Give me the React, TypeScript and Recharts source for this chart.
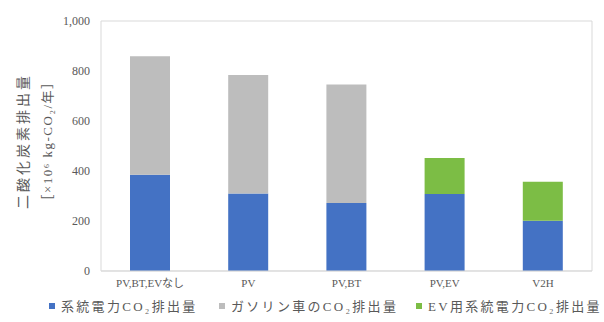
import React from "react";
import { BarChart, Bar, XAxis, YAxis, CartesianGrid, Legend } from "recharts";

const categories = ["PV,BT,EVなし", "PV", "PV,BT", "PV,EV", "V2H"];
const gridPower = [385, 310, 272, 308, 201];
const gasolineCar = [474, 474, 474, 0, 0];
const evGridPower = [0, 0, 0, 144, 156];
const yTicks = [0, 200, 400, 600, 800, 1000];

const seriesNames = ["系統電力CO₂排出量", "ガソリン車のCO₂排出量", "EV用系統電力CO₂排出量"];
const colors = ["#4472c4", "#bdbdbd", "#7cbd45"];

const data = categories.map((c, i) => ({
  name: c,
  a: gridPower[i],
  b: gasolineCar[i],
  c: evGridPower[i],
}));

const serif = "'Liberation Serif', 'DejaVu Serif', 'Noto Sans CJK JP', serif";
const textColor = "#595959";

const YLabel = (props: any) => {
  const vb = props.viewBox || {};
  const cy = vb.y + vb.height / 2 - 5;
  return (
    <g fill={textColor} fontFamily={serif}>
      <text x={23} y={cy} transform={`rotate(-90 23 ${cy})`} textAnchor="middle" dominantBaseline="central" fontSize={14} letterSpacing={3}>
        二酸化炭素排出量
      </text>
      <text x={47} y={cy} transform={`rotate(-90 47 ${cy})`} textAnchor="middle" dominantBaseline="central" fontSize={13} letterSpacing={1.5}>
        ［×10⁶ kg-CO₂/年］
      </text>
    </g>
  );
};

const renderLegend = () => (
  <div style={{ position: "relative", height: 20, fontFamily: serif, fontSize: 13, color: textColor }}>
    {seriesNames.map((n, i) => (
      <div
        key={n}
        style={{
          position: "absolute",
          left: [49, 219, 416][i],
          top: 0,
          display: "flex",
          alignItems: "center",
          whiteSpace: "nowrap",
          letterSpacing: 2.3,
        }}
      >
        <span style={{ display: "inline-block", width: 6, height: 6, background: colors[i], marginRight: 6 }} />
        {n}
      </div>
    ))}
  </div>
);

export default function App() {
  return (
    <div style={{ position: "absolute", left: 0, top: 0 }}>
      <BarChart
        width={604}
        height={322}
        data={data}
        margin={{ top: 21, right: 11, left: 0, bottom: 1 }}
        barSize={40}
      >
        <CartesianGrid vertical={false} stroke="#d9d9d9" />
        <XAxis
          dataKey="name"
          axisLine={{ stroke: "#d9d9d9" }}
          tickLine={false}
          tickSize={0}
          tickMargin={8}
          tick={{ fill: textColor, fontSize: 11, fontFamily: serif }}
          interval={0}
        />
        <YAxis
          yAxisId="left"
          width={101}
          domain={[0, 1000]}
          ticks={yTicks}
          axisLine={{ stroke: "#d9d9d9" }}
          tickLine={false}
          tickSize={0}
          tickMargin={11}
          tick={{ fill: textColor, fontSize: 12, fontFamily: serif }}
          tickFormatter={(v: number) => v.toLocaleString("en-US")}
          label={<YLabel />}
        />
        <YAxis
          yAxisId="right"
          orientation="right"
          width={1}
          domain={[0, 1000]}
          ticks={yTicks}
          axisLine={{ stroke: "#d9d9d9" }}
          tickLine={false}
          tick={false}
        />
        <Legend verticalAlign="bottom" wrapperStyle={{ left: 0, bottom: 6, width: 604 }} content={renderLegend} />
        <Bar yAxisId="left" dataKey="a" name={seriesNames[0]} stackId="s" fill={colors[0]} isAnimationActive={false} />
        <Bar yAxisId="left" dataKey="b" name={seriesNames[1]} stackId="s" fill={colors[1]} isAnimationActive={false} />
        <Bar yAxisId="left" dataKey="c" name={seriesNames[2]} stackId="s" fill={colors[2]} isAnimationActive={false} />
      </BarChart>
    </div>
  );
}
